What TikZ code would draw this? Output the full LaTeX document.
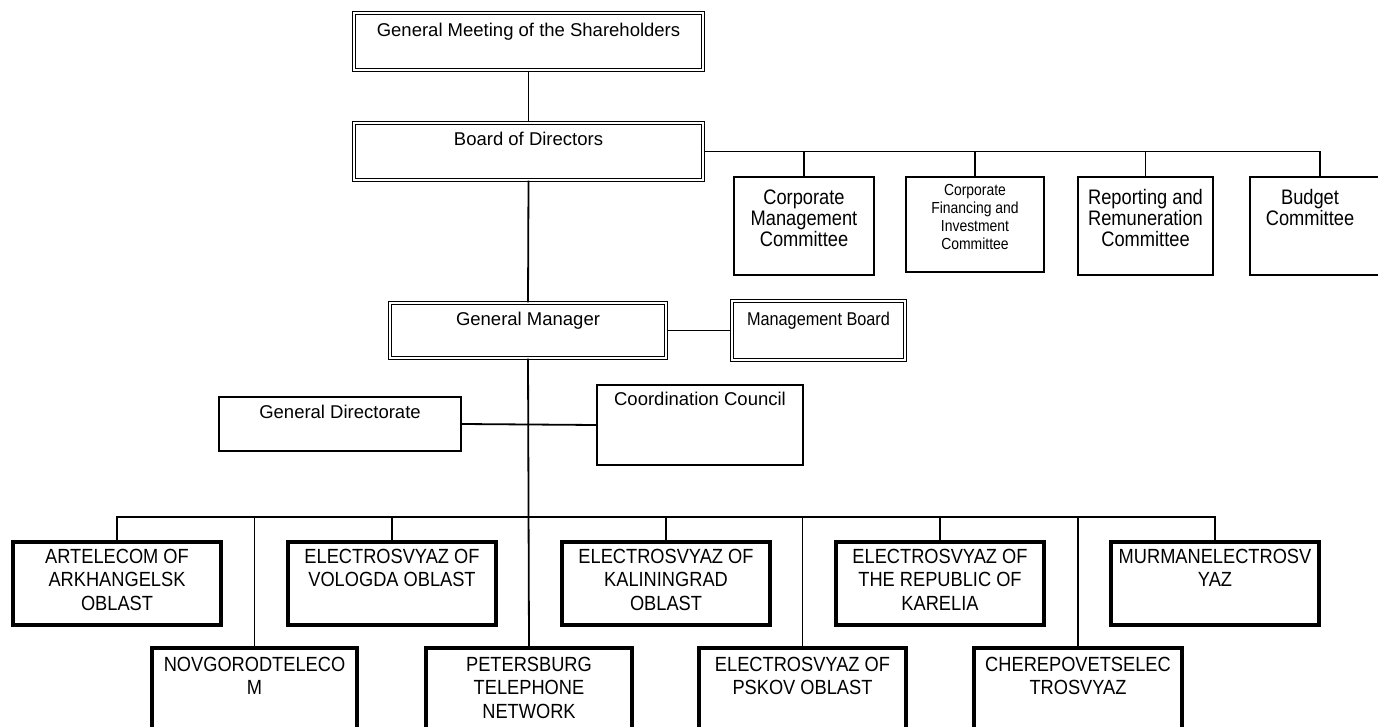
\documentclass[tikz,border=0pt]{standalone}
\usepackage{fontspec}
\setmainfont{Liberation Sans}
\newfontfamily\condA{Liberation Sans}[FakeStretch=0.89]
\newfontfamily\condB{Liberation Sans}[FakeStretch=0.87]
\newfontfamily\condC{Liberation Sans}[FakeStretch=0.88]
% #1 style, #2 name, #3 x1, #4 y1, #5 x2, #6 y2, #7 first baseline offset, #8 text
\newcommand\orgbox[8]{%
  \node[#1, inner sep=0pt, minimum width={(#5-#3)*1pt}, minimum height={(#6-#4)*1pt}]
    (#2) at ({(#3+#5)/2},{(#4+#6)/2})
    {\parbox[c][\dimexpr #6pt-#4pt\relax][t]{\dimexpr #5pt-#3pt\relax}{\centering\rule{0pt}{#7pt}#8\par}};}
\tikzset{
  dbox/.style={draw, double, double distance=2.2pt, line width=1.1pt, font=\fontsize{18.5}{21}\selectfont},
  sbox/.style={draw, line width=1.8pt, font=\fontsize{18.5}{21}\selectfont},
  cbox/.style={draw, line width=2pt, font=\condB\fontsize{21}{21}\selectfont},
  fbox/.style={draw, line width=2pt, font=\condB\fontsize{16}{17.7}\selectfont},
  tbox/.style={draw, line width=3.4pt, font=\condA\fontsize{20.5}{23.5}\selectfont},
  conn/.style={draw, line width=1.8pt},
}
\begin{document}
\begin{tikzpicture}[x=1pt, y=-1pt]
\useasboundingbox (0,0) rectangle (1378,727);
\fill[white] (0,0) rectangle (1378,727);
\clip (0,0) rectangle (1378,727);
% top
\orgbox{dbox}{gms}{354}{13}{703}{70}{24}{General Meeting of the Shareholders}
\orgbox{dbox}{bod}{354}{123}{703}{180}{23}{Board of Directors}
% committees
\orgbox{cbox}{cmc}{734}{177}{874}{275}{28}{Corporate\\Management\\Committee}
\orgbox{fbox}{cfi}{906}{177}{1044}{272}{19}{Corporate\\Financing and\\Investment\\Committee}
\orgbox{cbox}{rrc}{1078}{177}{1213}{275}{28}{Reporting and\\Remuneration\\Committee}
\orgbox{cbox}{bud}{1250}{177}{1390}{275}{28}{\hspace*{-20pt}Budget\\\hspace*{-20pt}Committee}
% management
\orgbox{dbox}{gm}{390}{303}{666}{358}{22}{General Manager}
\orgbox{dbox}{mb}{732}{301}{905}{360}{24}{{\condC Management Board}}
\orgbox{sbox}{gd}{219}{397}{461}{451}{21}{General Directorate}
\orgbox{sbox}{cc}{597}{385}{803}{465}{20}{Coordination Council}
% subsidiaries upper row
\orgbox{tbox}{art}{13}{542}{221}{625}{21}{ARTELECOM OF\\ARKHANGELSK\\OBLAST}
\orgbox{tbox}{vol}{288}{542}{496}{625}{21}{ELECTROSVYAZ OF\\VOLOGDA OBLAST}
\orgbox{tbox}{kal}{562}{542}{770}{625}{21}{ELECTROSVYAZ OF\\KALININGRAD\\OBLAST}
\orgbox{tbox}{kar}{836}{542}{1044}{625}{21}{ELECTROSVYAZ OF\\THE REPUBLIC OF\\KARELIA}
\orgbox{tbox}{mur}{1111}{542}{1319}{625}{21}{MURMANELECTROSV\\YAZ}
% subsidiaries lower row
\orgbox{tbox}{nov}{152}{648}{357}{780}{23}{NOVGORODTELECO\\M}
\orgbox{tbox}{pet}{426}{648}{632}{780}{23}{PETERSBURG\\TELEPHONE\\NETWORK}
\orgbox{tbox}{psk}{699}{648}{906}{780}{23}{ELECTROSVYAZ OF\\PSKOV OBLAST}
\orgbox{tbox}{che}{974}{648}{1182}{780}{23}{CHEREPOVETSELEC\\TROSVYAZ}
% connectors
\coordinate (bus) at (529,517);
\draw[conn] (gms.south) -- (bod.north);
\draw[conn] (bod.east) -- (bud.north |- bod.east) -- (bud.north);
\draw[conn] (cmc.north) -- (cmc.north |- bod.east);
\draw[conn] (cfi.north) -- (cfi.north |- bod.east);
\draw[conn] (rrc.north) -- (rrc.north |- bod.east);
\draw[conn] (bod.south) -- (gm.north);
\draw[conn] (gm.east) -- (mb.west);
\draw[conn] (gm.south) -- (pet.north);
\draw[conn] (gd.east) -- (cc.west);
\draw[conn] (art.north) -- (art.north |- bus) -- (mur.north |- bus) -- (mur.north);
\draw[conn] (nov.north) -- (nov.north |- bus);
\draw[conn] (vol.north) -- (vol.north |- bus);
\draw[conn] (kal.north) -- (kal.north |- bus);
\draw[conn] (psk.north) -- (psk.north |- bus);
\draw[conn] (kar.north) -- (kar.north |- bus);
\draw[conn] (che.north) -- (che.north |- bus);
\end{tikzpicture}
\end{document}
